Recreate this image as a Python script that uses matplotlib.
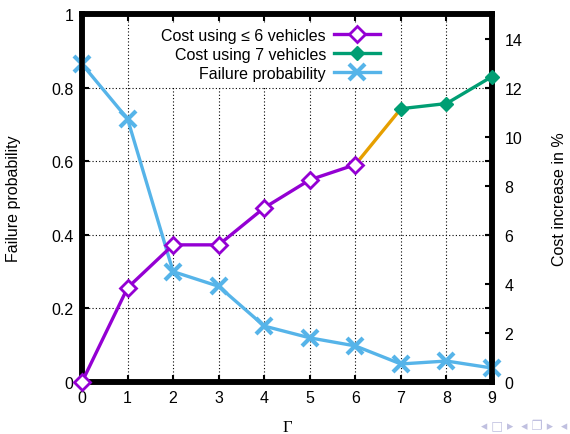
import matplotlib
matplotlib.use("Agg")
import matplotlib.pyplot as plt

plt.rcParams['font.family'] = ['Liberation Sans', 'DejaVu Sans']

# dados
gamma = [0, 1, 2, 3, 4, 5, 6, 7, 8, 9]
failure = [0.864, 0.715, 0.30, 0.26, 0.152, 0.12, 0.098, 0.049, 0.057, 0.038]
cost_le6_x = [0, 1, 2, 3, 4, 5, 6]
cost_le6 = [0.0, 3.84, 5.59, 5.59, 7.1, 8.24, 8.86]
cost_7_x = [7, 8, 9]
cost_7 = [11.14, 11.35, 12.45]

purple = "#9400D3"
green = "#009E73"
blue = "#56B4E9"
orange = "#E69F00"

fig = plt.figure(figsize=(5.7, 4.35), dpi=100)
ax = fig.add_axes([82/570, 52/435, 410/570, 368/435])
ax2 = ax.twinx()

# probabilidade de falha (eixo esquerdo)
l3, = ax.plot(gamma, failure, color=blue, lw=2.4, marker="x", ms=12, mew=3,
              clip_on=False, zorder=3, label="Failure probability")

# custo (eixo direito)
ax2.plot([cost_le6_x[-1], cost_7_x[0]], [cost_le6[-1], cost_7[0]],
         color=orange, lw=2.4, clip_on=False, zorder=2)
l1, = ax2.plot(cost_le6_x, cost_le6, color=purple, lw=2.4, marker="D", ms=8,
               mfc="white", mew=2, clip_on=False, zorder=3,
               label="Cost using \u2264 6 vehicles")
l2, = ax2.plot(cost_7_x, cost_7, color=green, lw=2.4, marker="D", ms=7,
               clip_on=False, zorder=3, label="Cost using 7 vehicles")

ax.set_xlim(0, 9)
ax.set_ylim(0, 1)
ax2.set_ylim(0, 15)
ax.set_xticks(gamma)
ax.set_yticks([0, 0.2, 0.4, 0.6, 0.8, 1])
ax.set_yticklabels(["0", "0.2", "0.4", "0.6", "0.8", "1"])
ax2.set_yticks([0, 2, 4, 6, 8, 10, 12, 14])

ax.grid(True, color="black", linestyle=(0, (1, 2)), lw=0.8)
ax.tick_params(direction="in", length=5, width=1.5, labelsize=11.5,
               top=True, right=True, pad=6)
ax2.tick_params(direction="in", length=5, width=1.5, labelsize=11.5, pad=9)

for a in (ax, ax2):
    for s in a.spines.values():
        s.set_linewidth(4)

ax.set_ylabel("Failure probability", fontsize=11.5, labelpad=22)
ax2.set_ylabel("Cost increase in %", fontsize=11.5, labelpad=21)
ax.set_xlabel("\u0393", fontsize=12, family="Liberation Serif", labelpad=10)

leg = ax2.legend(handles=[l1, l2, l3], loc="upper right",
                 bbox_to_anchor=(393/570, 419/435), bbox_transform=fig.transFigure,
                 markerfirst=False, handlelength=2.9, labelspacing=0.25,
                 fontsize=11.5, frameon=True, fancybox=False, framealpha=1,
                 borderpad=0.3, handletextpad=0.5)
leg.get_frame().set_edgecolor("white")

# símbolos de navegação do beamer
fig.text(0.995, 0.012, "\u25c2 \u25a1 \u25b8  \u25c2 \u2750 \u25b8  \u25c2",
         color="#c0c0e0", fontsize=9, ha="right", family="DejaVu Sans")

fig.savefig("out.png", dpi=100)
